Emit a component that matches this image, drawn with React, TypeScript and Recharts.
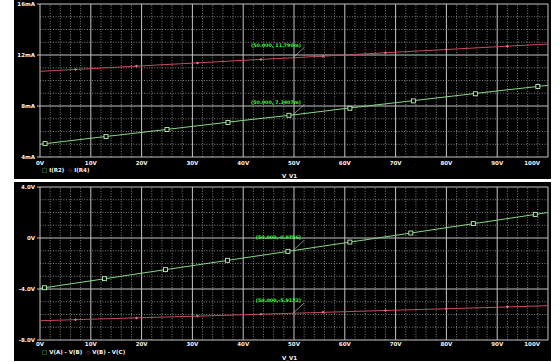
import {
  ComposedChart,
  Line,
  Scatter,
  XAxis,
  YAxis,
  CartesianGrid,
  ReferenceLine,
  ReferenceDot,
} from "recharts";

// sweep of V_V1, in volts
const sweep = [0, 10, 20, 30, 40, 50, 60, 70, 80, 90, 100];

// top panel, mA
const iR2 = [5.0, 5.47, 5.93, 6.4, 6.87, 7.31, 7.8, 8.26, 8.72, 9.18, 9.62];
const iR4 = [10.72, 10.93, 11.15, 11.36, 11.58, 11.79, 12.0, 12.22, 12.43, 12.65, 12.86];

// bottom panel, V
const vAB = [-3.95, -3.36, -2.76, -2.17, -1.57, -0.98, -0.38, 0.21, 0.81, 1.4, 2.0];
const vBC = [-6.49, -6.37, -6.25, -6.14, -6.02, -5.9, -5.78, -5.66, -5.55, -5.43, -5.31];

// marker symbols as they sit on the traces
const markTopX = [1, 13, 25, 37, 49, 61, 73.5, 85.7, 98];
const markR2 = [5.05, 5.6, 6.16, 6.71, 7.27, 7.82, 8.4, 8.96, 9.53];
const markBotX = [0.9, 12.7, 24.7, 36.9, 48.8, 61, 73, 85.3, 97.5];
const markAB = [-3.9, -3.19, -2.48, -1.75, -1.05, -0.32, 0.39, 1.13, 1.85];
const redMarkX = [7, 19, 31, 43.5, 55.7, 68, 80, 92];
const markR4 = [10.87, 11.13, 11.38, 11.65, 11.91, 12.18, 12.43, 12.69];
const markBC = [-6.41, -6.27, -6.12, -5.98, -5.83, -5.69, -5.55, -5.4];

// cursor readouts at 50V
const noteTop = [
  { y: 11.79, text: "(50.000, 11.790m)" },
  { y: 7.31, text: "(50.000, 7.3407m)" },
];
const noteBot = [
  { y: -0.98, text: "(50.000,-0.9756)" },
  { y: -5.9, text: "(50.000,-5.9172)" },
];

const xTicks = [0, 10, 20, 30, 40, 50, 60, 70, 80, 90, 100];
const xMinor = [
  2, 4, 6, 8, 12, 14, 16, 18, 22, 24, 26, 28, 32, 34, 36, 38, 42, 44, 46, 48,
  52, 54, 56, 58, 62, 64, 66, 68, 72, 74, 76, 78, 82, 84, 86, 88, 92, 94, 96, 98,
];
const topTicks = [4, 8, 12, 16];
const topMinor = [5, 6, 7, 9, 10, 11, 13, 14, 15];
const botTicks = [-8, -4, 0, 4];
const botMinor = [-7, -6, -5, -3, -2, -1, 1, 2, 3];

const GREEN = "#86d886";
const RED = "#c94a5c";
const NOTE = "#3cff3c";
const TXT = "#f4f4f4";
const FONT = "'DejaVu Sans', sans-serif";

const pts = (xs: number[], ys: number[]) => xs.map((x, i) => ({ x, y: ys[i] }));

const tickStyle = { fill: TXT, fontSize: 5.5, fontWeight: 700, fontFamily: FONT };

function XTick(p: any) {
  const v = p.payload.value;
  const last = v === 100;
  return (
    <text
      x={last ? p.x + 1 : p.x}
      y={p.y}
      dy="0.71em"
      textAnchor={last ? "end" : "middle"}
      {...tickStyle}
    >
      {`${v}V`}
    </text>
  );
}

function Square(p: any) {
  return (
    <rect x={p.cx - 2} y={p.cy - 2} width={4} height={4} fill="#000" stroke="#b8f5b8" strokeWidth={0.9} />
  );
}

function Diamond(p: any) {
  const { cx, cy } = p;
  return (
    <path
      d={`M${cx},${cy - 1.5}L${cx + 1.5},${cy}L${cx},${cy + 1.5}L${cx - 1.5},${cy}Z`}
      fill="#e07888"
      stroke="none"
    />
  );
}

function Note(text: string) {
  return (p: any) => (
    <g>
      <line x1={p.cx - 1} y1={p.cy} x2={p.cx + 10} y2={p.cy - 10} stroke="#bbbbbb" strokeWidth={0.7} />
      <text x={p.cx + 7} y={p.cy - 11} textAnchor="end" fill={NOTE} fontSize={4.8} fontWeight={700} fontFamily={FONT}>
        {text}
      </text>
    </g>
  );
}

type PanelProps = {
  top: number;
  marginTop: number;
  labelGap: number;
  green: number[];
  red: number[];
  greenMarks: { x: number; y: number }[];
  redMarks: { x: number; y: number }[];
  domain: [number, number];
  ticks: number[];
  minor: number[];
  fmt: (v: number) => string;
  notes: { y: number; text: string }[];
  greenName: string;
  redName: string;
};

function Panel(props: PanelProps) {
  const { top, marginTop, labelGap, green, red, greenMarks, redMarks, domain, ticks, minor, fmt, notes } = props;
  return (
    <div style={{ position: "absolute", left: 14, top, width: 537, height: 179, background: "#000" }}>
      <ComposedChart
        width={537}
        height={179}
        margin={{ top: marginTop, right: 3, left: 0, bottom: 0 }}
      >
        {xMinor.map((v) => (
          <ReferenceLine key={"vx" + v} x={v} stroke="#a2a2a2" strokeWidth={0.8} strokeDasharray="1 1.6" />
        ))}
        {minor.map((v) => (
          <ReferenceLine key={"hy" + v} y={v} stroke="#a2a2a2" strokeWidth={0.8} strokeDasharray="1 1.6" />
        ))}
        <CartesianGrid stroke="#c4c4c4" strokeWidth={1} />
        <XAxis
          dataKey="x"
          type="number"
          domain={[0, 100]}
          ticks={xTicks}
          tick={<XTick />}
          tickLine={false}
          tickSize={0}
          axisLine={false}
          tickMargin={labelGap}
          height={179 - marginTop - 153}
          allowDataOverflow
        />
        <YAxis
          type="number"
          domain={domain}
          ticks={ticks}
          tickFormatter={fmt}
          tick={tickStyle}
          tickLine={{ stroke: "#c4c4c4" }}
          tickSize={3}
          axisLine={false}
          width={26}
          allowDataOverflow
        />
        <Line
          data={pts(sweep, red)}
          dataKey="y"
          stroke={RED}
          strokeWidth={1}
          dot={false}
          isAnimationActive={false}
        />
        <Line
          data={pts(sweep, green)}
          dataKey="y"
          stroke={GREEN}
          strokeWidth={1}
          dot={false}
          isAnimationActive={false}
        />
        <Scatter data={redMarks} dataKey="y" shape={Diamond} isAnimationActive={false} />
        <Scatter data={greenMarks} dataKey="y" shape={Square} isAnimationActive={false} />
        {notes.map((n) => (
          <ReferenceDot key={n.text} x={50} y={n.y} r={0} shape={Note(n.text)} />
        ))}
      </ComposedChart>
      <div
        style={{
          position: "absolute",
          left: 28,
          top: 167,
          fontSize: 5.5,
          fontWeight: 700,
          fontFamily: FONT,
          color: TXT,
          whiteSpace: "pre",
          lineHeight: "7px",
        }}
      >
        <span style={{ color: GREEN }}>□</span> {props.greenName}{"  "}
        <span style={{ color: RED }}>◇</span> {props.redName}
      </div>
      <div
        style={{
          position: "absolute",
          left: 268,
          top: 173,
          fontSize: 5.5,
          fontWeight: 700,
          fontFamily: FONT,
          color: TXT,
          lineHeight: "7px",
        }}
      >
        V_V1
      </div>
    </div>
  );
}

export default function App() {
  return (
    <div style={{ position: "absolute", left: 0, top: 0, width: 560, height: 362, background: "#fff", overflow: "hidden" }}>
      <Panel
        top={0}
        marginTop={4}
        labelGap={4}
        green={iR2}
        red={iR4}
        greenMarks={pts(markTopX, markR2)}
        redMarks={pts(redMarkX, markR4)}
        domain={[4, 16]}
        ticks={topTicks}
        minor={topMinor}
        fmt={(v) => `${v}mA`}
        notes={noteTop}
        greenName="I(R2)"
        redName="I(R4)"
      />
      <Panel
        top={182}
        marginTop={5}
        labelGap={2}
        green={vAB}
        red={vBC}
        greenMarks={pts(markBotX, markAB)}
        redMarks={pts(redMarkX, markBC)}
        domain={[-8, 4]}
        ticks={botTicks}
        minor={botMinor}
        fmt={(v) => (v === 0 ? "0V" : `${v.toFixed(1)}V`)}
        notes={noteBot}
        greenName="V(A) - V(B)"
        redName="V(B) - V(C)"
      />
    </div>
  );
}
